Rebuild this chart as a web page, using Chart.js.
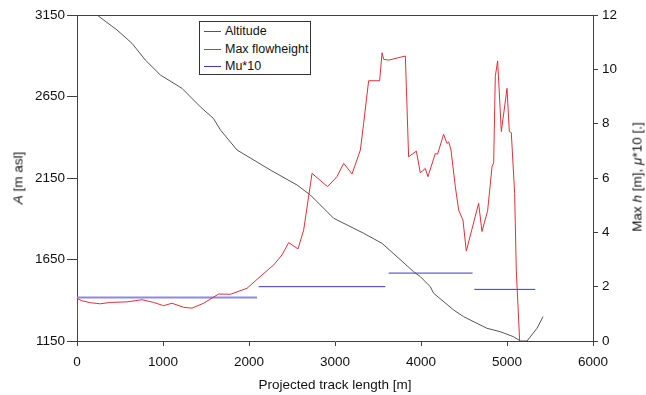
<!DOCTYPE html>
<html>
<head>
<meta charset="utf-8">
<script src="https://cdn.jsdelivr.net/npm/chart.js@4/dist/chart.umd.min.js"></script>
<style>
  html, body { margin: 0; padding: 0; background: #fff; }
  #wrap { position: relative; width: 646px; height: 395px; font-family: "Liberation Sans", Arial, sans-serif; color: #111; }
  canvas { position: absolute; left: 0; top: 0; }
  .rot { position: absolute; white-space: nowrap; font-size: 13.5px; transform: translate(-50%, -50%) rotate(-90deg); }
  #xt { position: absolute; white-space: nowrap; font-size: 13.5px; transform: translate(-50%, -50%); left: 335px; top: 384px; }
  #legend { position: absolute; left: 199px; top: 21px; width: 110px; height: 52px; border: 1px solid #333; background: #fff; font-size: 12.5px; }
  .row { position: absolute; left: 0; height: 18px; line-height: 18px; }
  .sw { position: absolute; left: 4px; top: 9px; width: 17px; height: 0; border-top: 1px solid; }
  .lt { position: absolute; left: 25px; top: 0; white-space: nowrap; }
</style>
</head>
<body>
<div id="wrap">
  <canvas id="c" width="646" height="395"></canvas>
  <div class="rot" style="left:18px; top:178px;"><i>A</i> [m asl]</div>
  <div class="rot" style="left:637px; top:177px;">Max <i>h</i> [m], <i>μ</i>*10 [.]</div>
  <div id="xt">Projected track length [m]</div>
  <div id="legend">
    <div class="row" style="top:0px;"><span class="sw" style="border-color:#555;"></span><span class="lt">Altitude</span></div>
    <div class="row" style="top:17.5px;"><span class="sw" style="border-color:#e0303a;"></span><span class="lt">Max flowheight</span></div>
    <div class="row" style="top:35px;"><span class="sw" style="border-color:#3a3ad8;"></span><span class="lt">Mu*10</span></div>
  </div>
</div>
<script>
// ---- data ----
const altX = [0,233,465,640,794,969,1221,1434,1585,1669,1860,2248,2558,2713,2984,3333,3547,3721,3914,3992,4108,4147,4380,4496,4767,4922,5077,5155,5233,5349,5419];
const altY = [3245,3150,3058,2976,2874,2782,2700,2587,2516,2444,2322,2199,2107,2046,1903,1811,1749,1667,1575,1545,1483,1443,1340,1299,1228,1207,1176,1150,1150,1228,1299];

const flowX = [0,0,58,155,271,387,581,756,891,1007,1105,1240,1337,1472,1647,1783,1977,2151,2287,2384,2461,2570,2636,2733,2914,3023,3101,3198,3295,3333,3391,3519,3547,3566,3624,3818,3856,3946,3992,4050,4081,4166,4193,4263,4302,4322,4349,4399,4438,4488,4527,4670,4709,4775,4826,4845,4864,4891,4934,5000,5027,5050,5089,5108,5147];
const flowY = [0.77,1.57,1.48,1.41,1.37,1.42,1.44,1.52,1.42,1.30,1.39,1.24,1.21,1.39,1.73,1.72,1.94,2.43,2.80,3.17,3.62,3.39,4.09,6.17,5.68,6.05,6.54,6.15,7.03,8.01,9.58,9.58,10.61,10.37,10.34,10.49,6.78,6.99,6.19,6.35,6.05,6.90,6.88,7.61,7.27,7.33,7.03,5.68,4.82,4.45,3.31,5.07,4.03,4.80,6.42,6.56,9.74,10.31,7.71,9.30,7.71,7.67,5.43,2.61,0];

const muStart = [0, 2112, 3624, 4620];
const muEnd   = [2093, 3585, 4600, 5329];
const muValue = [1.6, 2.0, 2.5, 1.9];

const xTicks = [0,1000,2000,3000,4000,5000,6000];
const leftTicks = [1150,1650,2150,2650,3150];
const rightTicks = [0,2,4,6,8,10,12];

// ---- build datasets ----
const altData = altX.map((x,i)=>({x:x, y:altY[i]}));
const flowData = flowX.map((x,i)=>({x:x, y:flowY[i]}));
const muData = [];
muStart.forEach((s,i)=>{
  if (i>0) muData.push({x:s, y:null});
  muData.push({x:s, y:muValue[i]});
  muData.push({x:muEnd[i], y:muValue[i]});
});

const axisColor = '#404040';
const tickFont = {family:'"Liberation Sans", Arial, sans-serif', size:13.5};
const plain = v => String(v);

const frame = {
  id:'frame',
  afterDraw(chart){
    const a = chart.chartArea, ctx = chart.ctx;
    ctx.save();
    ctx.strokeStyle = axisColor; ctx.lineWidth = 1;
    ctx.beginPath();
    ctx.moveTo(a.left, a.top+0.5); ctx.lineTo(a.right, a.top+0.5);
    ctx.stroke();
    ctx.restore();
  }
};

new Chart(document.getElementById('c'), {
  type:'line',
  data:{ datasets:[
    {label:'Altitude', data:altData, yAxisID:'y', borderColor:'#555', borderWidth:1, pointRadius:0, tension:0},
    {label:'Max flowheight', data:flowData, yAxisID:'y1', borderColor:'#e0303a', borderWidth:1, pointRadius:0, tension:0},
    {label:'Mu*10', data:muData, yAxisID:'y1', borderColor:'#3a3ad8', borderWidth:1, pointRadius:0, tension:0, spanGaps:false,
     segment:{
       borderColor: c => c.p0.parsed.x < muEnd[0] ? '#8a8ae8' : undefined,
       borderWidth: c => c.p0.parsed.x < muEnd[0] ? 2 : undefined
     }}
  ]},
  options:{
    responsive:false, animation:false,
    layout:{padding:{top:15, left:0, right:0, bottom:0}},
    plugins:{legend:{display:false}, tooltip:{enabled:false}},
    scales:{
      x:{type:'linear', min:0, max:6000,
         afterBuildTicks(s){ s.ticks = xTicks.map(v=>({value:v})); },
         afterFit(s){ s.height = 54; },
         grid:{drawOnChartArea:false, drawTicks:true, tickLength:5, color:axisColor},
         border:{display:true, color:axisColor},
         ticks:{color:'#111', font:tickFont, padding:8, maxRotation:0, callback:plain}},
      y:{type:'linear', position:'left', min:1150, max:3150,
         afterBuildTicks(s){ s.ticks = leftTicks.map(v=>({value:v})); },
         afterFit(s){ s.width = 77; },
         grid:{drawOnChartArea:false, drawTicks:true, tickLength:10, color:axisColor},
         border:{display:true, color:axisColor},
         ticks:{color:'#111', font:tickFont, padding:2, callback:plain}},
      y1:{type:'linear', position:'right', min:0, max:12,
         afterBuildTicks(s){ s.ticks = rightTicks.map(v=>({value:v})); },
         afterFit(s){ s.width = 53; },
         grid:{drawOnChartArea:false, drawTicks:true, tickLength:5, color:axisColor},
         border:{display:true, color:axisColor},
         ticks:{color:'#111', font:tickFont, padding:4, callback:plain}}
    }
  },
  plugins:[frame]
});
</script>
</body>
</html>
